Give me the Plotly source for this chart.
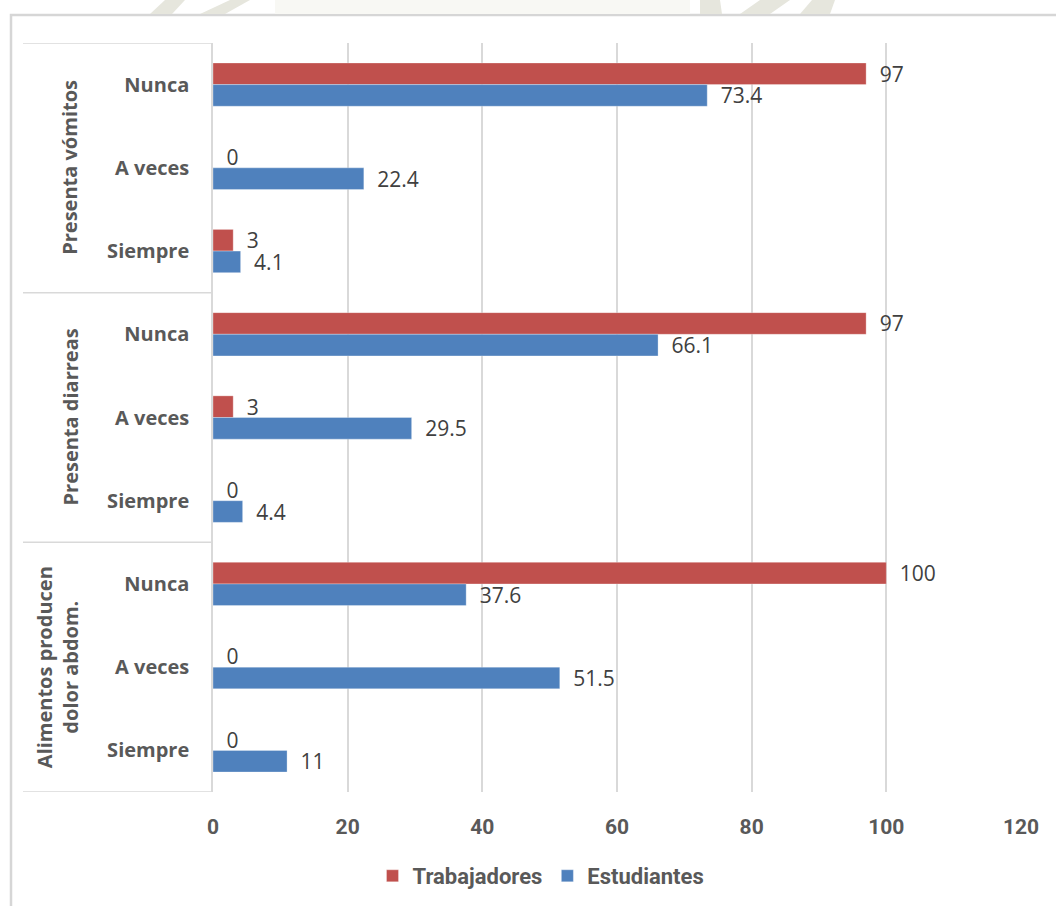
import plotly.graph_objects as go

# ---- data ----
groups = ["Presenta vómitos", "Presenta diarreas", "Alimentos producen<br>dolor abdom."]
categories = ["Nunca", "A veces", "Siempre",
              "Nunca", "A veces", "Siempre",
              "Nunca", "A veces", "Siempre"]
trabajadores = [97, 0, 3, 97, 3, 0, 100, 0, 0]
estudiantes = [73.4, 22.4, 4.1, 66.1, 29.5, 4.4, 37.6, 51.5, 11]
x_ticks = [0, 20, 40, 60, 80, 100, 120]

RED = "#c0504d"
BLUE = "#4f81bd"
GRID = "#d9d9d9"
TXT = "#595959"
LBL = "#404040"

W, H = 1056, 906
L, R, T, B = 213, 35, 43, 114
PW, PH = W - L - R, H - T - B

def px_x(px):
    return (px - L) / PW

def px_y(py):
    return (H - B - py) / PH

ypos = list(range(len(categories)))

fig = go.Figure()
for name, vals, col in [("Trabajadores", trabajadores, RED), ("Estudiantes", estudiantes, BLUE)]:
    fig.add_trace(go.Bar(
        name=name, orientation="h", y=ypos, x=vals,
        marker=dict(color=col, line=dict(color="rgba(255,255,255,0.6)", width=0.5)),
        text=[f"{v:g}" for v in vals],
        texttemplate="\u2002%{text}",
        textposition="outside", constraintext="none", cliponaxis=False,
        textfont=dict(family="Open Sans, Noto Sans, sans-serif", size=21, color=LBL),
    ))

shapes = []
# group box lines
n_per = 3
for k in range(len(groups) + 1):
    yv = k * n_per - 0.5
    shapes.append(dict(type="line", xref="paper", yref="y", x0=px_x(23), x1=0,
                       y0=yv, y1=yv, line=dict(color=GRID, width=1.5)))
# outer chart border
shapes.append(dict(type="rect", xref="paper", yref="paper", x0=px_x(11), x1=px_x(1070),
                   y0=px_y(920), y1=px_y(15), line=dict(color="#d6d6d6", width=2.5),
                   fillcolor="rgba(0,0,0,0)", layer="above"))
# faint watermark fragments above the chart
shapes.append(dict(type="rect", xref="paper", yref="paper", x0=px_x(275), x1=px_x(690),
                   y0=px_y(14), y1=px_y(0), line=dict(width=0), fillcolor="#f8f8f4"))
for a, b, c, d in [(150, 165, 185, 172), (200, 230, 250, 225), (700, 700, 720, 722),
                   (740, 760, 790, 770), (800, 812, 835, 830)]:
    shapes.append(dict(type="path", xref="paper", yref="paper",
                       path=f"M {px_x(a)},{px_y(14)} L {px_x(b)},{px_y(0)} L {px_x(c)},{px_y(0)} L {px_x(d)},{px_y(14)} Z",
                       line=dict(width=0), fillcolor="#e6e6dd"))

annotations = []
for k, g in enumerate(groups):
    cx = 70 if "<br>" not in g else 57
    annotations.append(dict(text=g, xref="paper", yref="y", x=px_x(cx), y=k * n_per + 1,
                            textangle=-90, showarrow=False, xanchor="center", yanchor="middle",
                            font=dict(family="Open Sans, Noto Sans, sans-serif", size=20, color=TXT,
                                      weight="bold")))

fig.update_layout(
    width=W, height=H,
    margin=dict(l=L, r=R, t=T, b=B, autoexpand=False),
    paper_bgcolor="white", plot_bgcolor="white",
    barmode="group", bargap=0.48, bargroupgap=0,
    showlegend=True,
    legend=dict(orientation="h", x=px_x(541), xanchor="center", y=px_y(876), yanchor="middle",
                font=dict(family="Roboto, sans-serif", size=22, color=TXT, weight="bold"),
                itemwidth=30, traceorder="normal"),
    xaxis=dict(range=[0, 120], tickvals=x_ticks, showgrid=True, gridcolor=GRID, gridwidth=1.5,
               zeroline=False, showline=False, ticks="", ticklabelstandoff=20,
               tickfont=dict(family="Roboto, sans-serif", size=21, color=TXT, weight="bold")),
    yaxis=dict(range=[len(categories) - 0.5, -0.5], tickvals=ypos, ticktext=categories,
               showgrid=False, zeroline=False, showline=True, linecolor=GRID, linewidth=1.5,
               ticks="", ticklabelstandoff=18,
               tickfont=dict(family="Open Sans, Noto Sans, sans-serif", size=20, color=TXT,
                             weight="bold")),
    shapes=shapes, annotations=annotations,
)

fig.write_html("out.html", config={"displayModeBar": False},
               post_script="document.body.style.margin='0px';")
